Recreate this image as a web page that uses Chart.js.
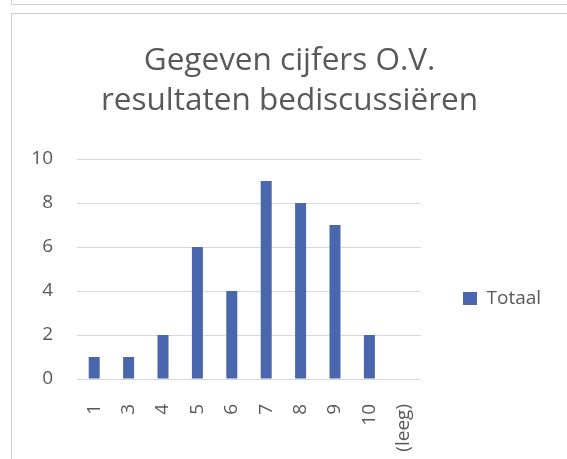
<!DOCTYPE html>
<html>
<head>
<meta charset="utf-8">
<script src="https://cdn.jsdelivr.net/npm/chart.js@4"></script>
<style>
  html, body { margin: 0; padding: 0; background: #ffffff; width: 567px; height: 459px; overflow: hidden; }
  #frame1 { position: absolute; left: 11px; top: -20px; width: 600px; height: 25px; border: 1px solid #cfcfcf; box-sizing: border-box; border-width: 1px 0 1px 1px; }
  #frame2 { position: absolute; left: 11px; top: 13px; width: 600px; height: 500px; border: 1px solid #cfcfcf; box-sizing: border-box; border-width: 1px 0 0 1px; }
  #wrap { position: absolute; left: 12px; top: 14px; width: 555px; height: 445px; }
</style>
</head>
<body>
<div id="frame1"></div>
<div id="frame2"></div>
<div id="wrap"><canvas id="c" width="555" height="445"></canvas></div>
<script>
const titleLines = ["Gegeven cijfers O.V.", "resultaten bediscussiëren"];
const categories = ["1", "3", "4", "5", "6", "7", "8", "9", "10", "(leeg)"];
const seriesName = "Totaal";
const totaal = [1, 1, 2, 6, 4, 9, 8, 7, 2, null];
const yTicks = [0, 2, 4, 6, 8, 10];

const FONT = "'Open Sans', 'Noto Sans', sans-serif";
const GRAY = "#595959";

const legendPlacePlugin = {
  id: 'legendPlace',
  afterInit(chart) {
    const lg = chart.legend;
    if (lg) {
      const orig = lg.fit;
      lg.fit = function () { orig.call(this); this.width = 146; };
    }
  },
  afterLayout(chart) {
    const lg = chart.legend;
    if (lg) {
      lg.top += 62;
      lg.bottom += 62;
    }
  }
};

new Chart(document.getElementById('c'), {
  type: 'bar',
  data: {
    labels: categories,
    datasets: [{
      label: seriesName,
      data: totaal,
      backgroundColor: '#4A66AC',
      borderWidth: 0,
      barPercentage: 0.32,
      categoryPercentage: 1.0
    }]
  },
  options: {
    responsive: false,
    animation: false,
    layout: { padding: 0 },
    plugins: {
      title: {
        display: true,
        text: titleLines,
        color: GRAY,
        font: { family: FONT, size: 31.5, weight: 'normal', lineHeight: 1.27 },
        padding: { top: 27, bottom: 38 }
      },
      legend: {
        display: true,
        position: 'right',
        labels: {
          color: GRAY,
          font: { family: FONT, size: 19 },
          boxWidth: 14,
          boxHeight: 13,
          padding: 42
        }
      },
      tooltip: { enabled: false }
    },
    scales: {
      x: {
        grid: { display: false },
        border: { display: false },
        ticks: {
          color: GRAY,
          font: { family: FONT, size: 19 },
          minRotation: 90,
          maxRotation: 90,
          padding: 17,
          autoSkip: false
        },
        afterFit(scale) { scale.height = 80; }
      },
      y: {
        min: 0,
        max: 10,
        afterBuildTicks(scale) { scale.ticks = yTicks.map(v => ({ value: v })); },
        grid: { color: '#d9d9d9', lineWidth: 1, drawTicks: false, tickLength: 0 },
        border: { display: false },
        ticks: {
          color: GRAY,
          font: { family: FONT, size: 19 },
          padding: 24
        },
        afterFit(scale) { scale.width = 65; }
      }
    }
  },
  plugins: [legendPlacePlugin]
});
</script>
</body>
</html>
